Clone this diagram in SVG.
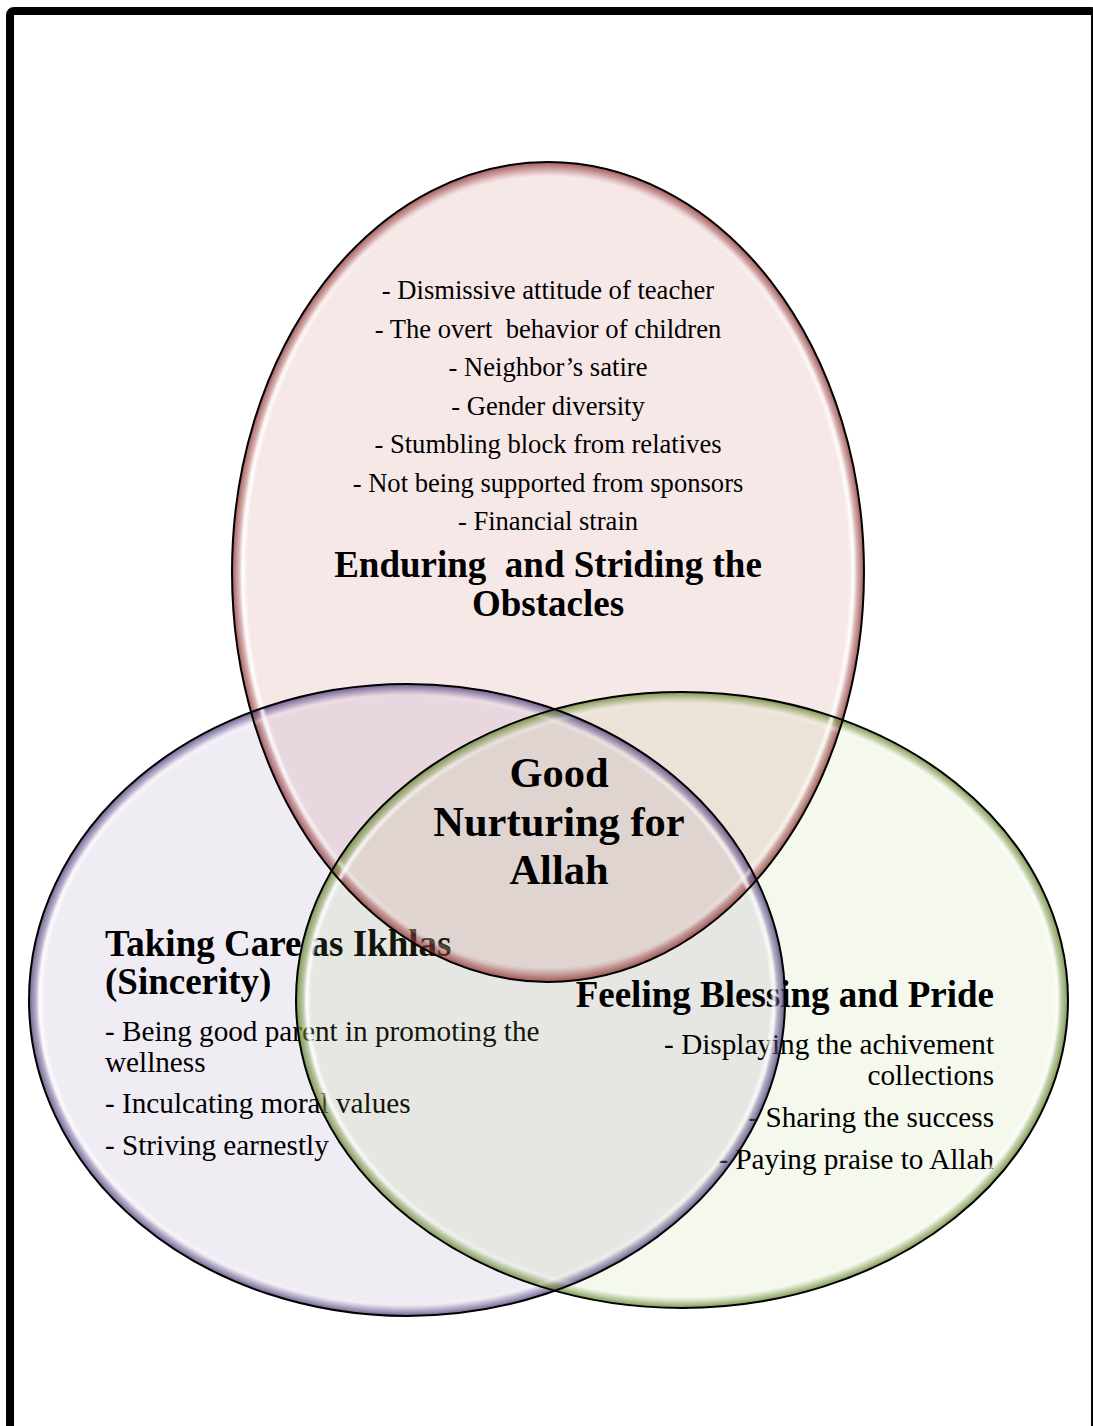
<svg xmlns="http://www.w3.org/2000/svg" width="1093" height="1426" viewBox="0 0 1093 1426">
  <defs>
    <style>
      .item { font-family: "Liberation Serif", "Times New Roman", serif; font-size: 26.6px; fill: #000; white-space: pre; }
      .side { font-family: "Liberation Serif", "Times New Roman", serif; font-size: 29.2px; fill: #000; white-space: pre; }
      .title { font-family: "Liberation Serif", "Times New Roman", serif; font-size: 37px; font-weight: bold; fill: #000; white-space: pre; }
      .core { font-family: "Liberation Serif", "Times New Roman", serif; font-size: 42.5px; font-weight: bold; fill: #000; }
      .mid { text-anchor: middle; }
      .end { text-anchor: end; }
      .edge { fill: none; stroke: #000; stroke-width: 2; }
      .shine { fill: none; stroke: url(#shine); stroke-width: 4; filter: url(#soft); }
    </style>
    <!-- dark bevel band just inside each outline -->
    <radialGradient id="rimRed" cx="0.5" cy="0.5" r="0.5">
      <stop offset="0.965" stop-color="#a04a4a" stop-opacity="0"/>
      <stop offset="1" stop-color="#8a3535" stop-opacity="0.8"/>
    </radialGradient>
    <radialGradient id="rimPurple" cx="0.5" cy="0.5" r="0.5">
      <stop offset="0.965" stop-color="#6a5a96" stop-opacity="0"/>
      <stop offset="1" stop-color="#4e3d78" stop-opacity="0.8"/>
    </radialGradient>
    <radialGradient id="rimGreen" cx="0.5" cy="0.5" r="0.5">
      <stop offset="0.965" stop-color="#86a450" stop-opacity="0"/>
      <stop offset="1" stop-color="#5f7c2c" stop-opacity="0.8"/>
    </radialGradient>
    <!-- glossy highlight, strongest at the sides -->
    <linearGradient id="shine" x1="0" y1="0" x2="1" y2="0">
      <stop offset="0" stop-color="#fff" stop-opacity="0.95"/>
      <stop offset="0.22" stop-color="#fff" stop-opacity="0.35"/>
      <stop offset="0.5" stop-color="#fff" stop-opacity="0"/>
      <stop offset="0.78" stop-color="#fff" stop-opacity="0.35"/>
      <stop offset="1" stop-color="#fff" stop-opacity="0.9"/>
    </linearGradient>
    <filter id="soft" x="-5%" y="-5%" width="110%" height="110%">
      <feGaussianBlur stdDeviation="1.3"/>
    </filter>
  </defs>

  <rect x="0" y="0" width="1093" height="1426" fill="#fff"/>

  <!-- page frame -->
  <rect x="10" y="11" width="1085" height="1500" rx="4" fill="none" stroke="#000" stroke-width="8"/>

  <!-- top set: obstacles -->
  <g id="obstacles">
    <ellipse cx="548" cy="572" rx="316" ry="410" fill="#c0504d" fill-opacity="0.13"/>
    <text class="item mid" x="548" y="299">- Dismissive attitude of teacher</text>
    <text class="item mid" x="548" y="338">- The overt  behavior of children</text>
    <text class="item mid" x="548" y="376">- Neighbor’s satire</text>
    <text class="item mid" x="548" y="415">- Gender diversity</text>
    <text class="item mid" x="548" y="453">- Stumbling block from relatives</text>
    <text class="item mid" x="548" y="492">- Not being supported from sponsors</text>
    <text class="item mid" x="548" y="530">- Financial strain</text>
    <text class="title mid" x="548" y="577">Enduring  and Striding the</text>
    <text class="title mid" x="548" y="616">Obstacles</text>
  </g>

  <!-- left set: sincerity -->
  <g id="sincerity">
    <ellipse cx="407" cy="1000" rx="378" ry="316" fill="#8064a2" fill-opacity="0.12"/>
    <text class="title" x="105" y="956">Taking Care as Ikhlas</text>
    <text class="title" x="105" y="994">(Sincerity)</text>
    <text class="side" x="105" y="1041">- Being good parent in promoting the</text>
    <text class="side" x="105" y="1072">wellness</text>
    <text class="side" x="105" y="1113">- Inculcating moral values</text>
    <text class="side" x="105" y="1155">- Striving earnestly</text>
  </g>

  <!-- right set: blessing -->
  <g id="blessing">
    <ellipse cx="682" cy="1000" rx="386" ry="308" fill="#9bbb59" fill-opacity="0.11"/>
    <text class="title end" x="994" y="1007">Feeling Blessing and Pride</text>
    <text class="side end" x="994" y="1054">- Displaying the achivement</text>
    <text class="side end" x="994" y="1085">collections</text>
    <text class="side end" x="994" y="1127">- Sharing the success</text>
    <text class="side end" x="994" y="1169">- Paying praise to Allah</text>
  </g>

  <!-- bevelled outlines drawn above the labels -->
  <g id="outlines">
    <ellipse cx="548" cy="572" rx="316" ry="410" fill="url(#rimRed)"/>
    <ellipse cx="407" cy="1000" rx="378" ry="316" fill="url(#rimPurple)"/>
    <ellipse cx="682" cy="1000" rx="386" ry="308" fill="url(#rimGreen)"/>
    <ellipse class="shine" cx="548" cy="572" rx="305" ry="399"/>
    <ellipse class="shine" cx="407" cy="1000" rx="367" ry="305"/>
    <ellipse class="shine" cx="682" cy="1000" rx="375" ry="297"/>
    <ellipse class="edge" cx="548" cy="572" rx="316" ry="410"/>
    <ellipse class="edge" cx="407" cy="1000" rx="378" ry="316"/>
    <ellipse class="edge" cx="682" cy="1000" rx="386" ry="308"/>
  </g>

  <!-- shared centre -->
  <g id="centre">
    <text class="core mid" x="559" y="787">Good</text>
    <text class="core mid" x="559" y="836">Nurturing for</text>
    <text class="core mid" x="559" y="884">Allah</text>
  </g>
</svg>
